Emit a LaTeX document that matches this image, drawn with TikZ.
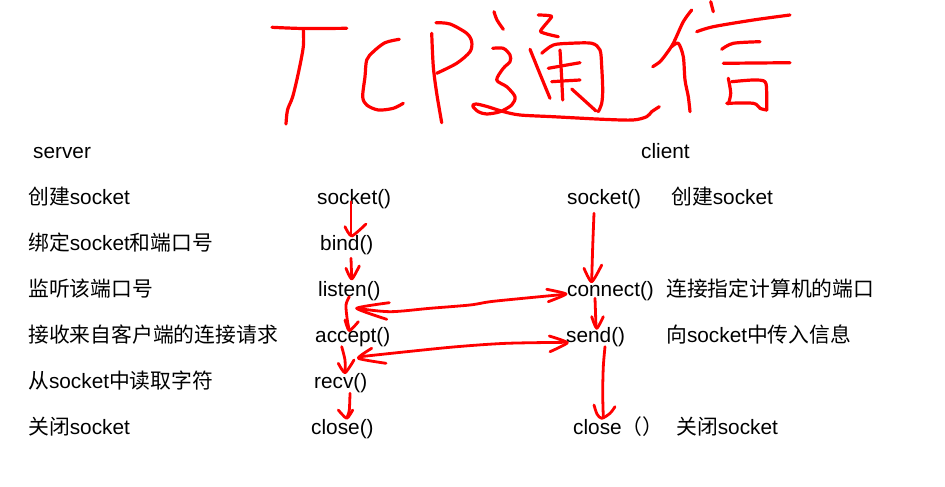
\documentclass[tikz,border=0pt]{standalone}
\usepackage{fontspec}
\setmainfont{Liberation Sans}
\newfontfamily\cjk{Noto Sans CJK SC}
\tikzset{
  pen/.style={draw=red, line width=2.8pt, line cap=round, line join=round},
  ink/.style={draw=red, line width=3.2pt, line cap=round, line join=round},
  lbl/.style={anchor=base west, inner sep=0pt, font=\fontsize{20.8}{24}\selectfont}
}
\begin{document}
\begin{tikzpicture}[x=1pt,y=-1pt]
\useasboundingbox[fill=white] (0,0) rectangle (945,487);

% ---------- text ----------
\node[lbl] (srv) at (33,158) {server};
\node[lbl] (cli) at (641,158) {client};

\node[lbl] (l1) at (28,204) {{\cjk 创建}socket};
\node[lbl] (l2) at (28,250) {{\cjk 绑定}socket{\cjk 和端口号}};
\node[lbl] (l3) at (28,296) {\cjk 监听该端口号};
\node[lbl] (l4) at (28,342) {\cjk 接收来自客户端的连接请求};
\node[lbl] (l5) at (28,388) {{\cjk 从}socket{\cjk 中读取字符}};
\node[lbl] (l6) at (28,434) {{\cjk 关闭}socket};

\node[lbl] (s1) at (317,204) {socket()};
\node[lbl] (s2) at (320,250) {bind()};
\node[lbl] (s3) at (318,296) {listen()};
\node[lbl] (s4) at (315,342) {accept()};
\node[lbl] (s5) at (314,388) {recv()};
\node[lbl] (s6) at (311,434) {close()};

\node[lbl] (c1) at (567,204) {socket()};
\node[lbl] (c2) at (567,296) {connect()};
\node[lbl] (c3) at (566,342) {send()};
\node[lbl] (c4) at (573,434) {close{\cjk （）}};

\node[lbl] (r1) at (671,204) {{\cjk 创建}socket};
\node[lbl] (r2) at (666,296) {\cjk 连接指定计算机的端口};
\node[lbl] (r3) at (666,342) {{\cjk 向}socket{\cjk 中传入信息}};
\node[lbl] (r4) at (676,434) {{\cjk 关闭}socket};

% ---------- handwritten title ----------
% T
\draw[ink] plot[smooth] coordinates {(272,27.3) (303,28.5) (346.7,28.3)};
\draw[ink] plot[smooth] coordinates {(303.3,29.3) (303.3,46.7) (298.3,73.3) (292.7,96.7) (287.5,110) (286,124)};
% C
\draw[ink] plot[smooth] coordinates {(399.3,39.3) (385,42.7) (373.3,51.7) (366.7,60) (365,76.7) (362.7,96.7) (366.7,105) (378.3,110) (393.3,108.3) (403.3,103.3)};
% P
\draw[ink] plot[smooth] coordinates {(431.7,33.3) (433.3,66.7) (436.7,93.3) (441.7,122.7)};
\draw[ink] plot[smooth] coordinates {(436,22.7) (450,24) (466.7,33.3) (471.7,41.7) (470,51.7) (456.7,63.3) (436.7,73.3)};
% 通
\draw[ink] plot[smooth] coordinates {(494,11.7) (497,20) (503.3,29.3)};
\draw[ink] plot[smooth] coordinates {(492.7,48.3) (503.3,48.3) (510,55) (510,61.7) (503.3,68.3) (496.7,80) (506.7,86.7) (515,96.7) (511.7,105) (500,111.7) (486.7,114) (478.3,111.7) (472.7,106) (476,104) (487,106.5) (503,111.5) (520,115) (553,116.7) (603,119.3) (633,120) (646.7,116.7) (651.7,111.7) (659.3,106.7)};
\draw[ink] plot[smooth, tension=0.3] coordinates {(538.3,15) (551.7,16.5) (540.5,31.5) (558.3,36.7)};
\draw[ink] plot[smooth] coordinates {(530,49.3) (540,74) (550,98.3)};
\draw[ink] plot[smooth] coordinates {(541.7,53.3) (553.3,45) (570,43.3) (591.7,43.3) (600,50) (601.7,66.7) (602.7,90) (601.7,103.3) (598.3,111.7)};
\draw[ink] plot[smooth] coordinates {(571.7,89) (585,101) (596,111)};
\draw[ink] plot[smooth] coordinates {(560,50) (561.5,75) (562.7,100)};
\draw[ink] plot[smooth] coordinates {(548.3,68.3) (564,65.5) (580,62.7)};
\draw[ink] plot[smooth] coordinates {(551.7,81.7) (566,80.8) (580,80)};
% 信
\draw[ink] plot[smooth] coordinates {(691.7,10) (683.3,21.7) (673.3,43.3) (666.7,53.3) (660,61.7) (652.7,66.7)};
\draw[ink] plot[smooth] coordinates {(671.7,46.7) (678.3,43.3) (683.3,56.7) (685,80) (688.3,96.7) (690,111.7)};
\draw[ink] plot[smooth] coordinates {(710.7,1.7) (713.3,11.7)};
\draw[ink] plot[smooth] coordinates {(696.7,31.7) (713.3,26.7) (753.3,20) (790,15)};
\draw[ink] plot[smooth] coordinates {(721.7,49.3) (733.3,43.3) (760,41.7)};
\draw[ink] plot[smooth] coordinates {(723.3,63.3) (756,63) (790,62.7)};
\draw[ink] plot[smooth] coordinates {(728.3,78.3) (730.7,93.3) (728.3,104)};
\draw[ink] plot[smooth] coordinates {(731.7,81.7) (753.3,80) (765,81.7) (766.7,93.3) (766.7,110)};
\draw[ink] plot[smooth] coordinates {(726.7,103.3) (753.3,103.3) (760,108.3) (766.7,110)};

% ---------- server chain ----------
\draw[pen] plot[smooth] coordinates {(351,201.7) (351,235)};
\draw[pen] plot[smooth, tension=0.4] coordinates {(345,226.7) (351.7,236) (366,224)};
\draw[pen] plot[smooth] coordinates {(351,258.3) (351.7,278.3)};
\draw[pen] plot[smooth, tension=0.4] coordinates {(346,268.3) (351.7,279) (359.3,266)};
\draw[pen] plot[smooth] coordinates {(349.3,296.7) (346,305) (347.3,320) (349.3,330)};
\draw[pen] plot[smooth, tension=0.4] coordinates {(345,320) (349.3,330.7) (358.3,321.7)};
\draw[pen] plot[smooth] coordinates {(341.7,346.7) (345,360) (345,371.7)};
\draw[pen] plot[smooth, tension=0.4] coordinates {(338.3,363.3) (345,372.7) (354,360)};
\draw[pen] plot[smooth] coordinates {(350,393.3) (349.3,410) (347.3,416.7)};
\draw[pen] plot[smooth, tension=0.4] coordinates {(338.3,410) (346.7,418.3) (352.7,410)};

% ---------- client chain ----------
\draw[pen] plot[smooth] coordinates {(594,213.3) (592.7,246.7) (591.7,280)};
\draw[pen] plot[smooth, tension=0.4] coordinates {(584,268.3) (591.7,281.7) (601.7,265)};
\draw[pen] plot[smooth] coordinates {(595,298.3) (596,326.7)};
\draw[pen] plot[smooth, tension=0.4] coordinates {(591.7,316.7) (596.7,328.3) (603.3,316.7)};
\draw[pen] plot[smooth] coordinates {(605,346.7) (603.3,366.7) (602.7,393.3) (603.3,416.7)};
\draw[pen] plot[smooth, tension=0.5] coordinates {(594,405) (597,414) (601.7,418.3) (610,413.3) (615,406.7)};

% ---------- double arrows ----------
\draw[pen] plot[smooth] coordinates {(356.7,308.3) (390,311.7) (430,308.3) (470,305) (490,301.7) (523.3,298.3) (565,294.3)};
\draw[pen] plot[smooth, tension=0.3] coordinates {(389.3,302.7) (356.7,308.3) (386.7,319.3)};
\draw[pen] plot[smooth, tension=0.3] coordinates {(546.7,289.3) (566,294) (548.3,301.7)};
\draw[pen] plot[smooth] coordinates {(360,356.7) (406.7,351.7) (456.7,346.7) (506.7,343.3) (566.7,342.3)};
\draw[pen] plot[smooth, tension=0.3] coordinates {(371.7,348.3) (358.3,358.3) (386,363.3)};
\draw[pen] plot[smooth, tension=0.3] coordinates {(549.3,336) (567.3,342.7) (550,351.7)};
\end{tikzpicture}
\end{document}
